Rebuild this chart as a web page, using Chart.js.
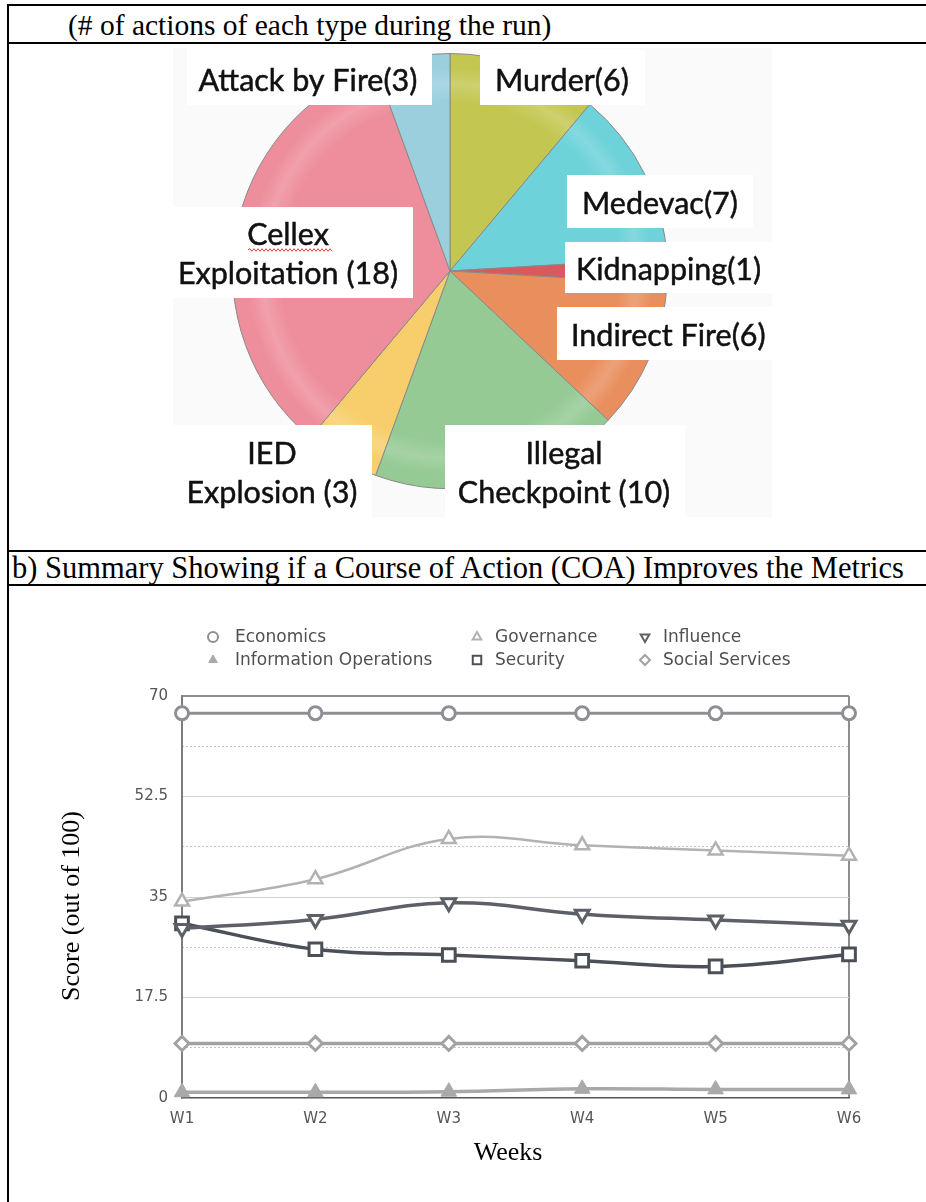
<!DOCTYPE html>
<html><head><meta charset="utf-8">
<script src="https://cdn.jsdelivr.net/npm/chart.js@4.4.1/dist/chart.umd.min.js"></script>
<style>
html,body{margin:0;padding:0;background:#fff;}
body{width:926px;height:1202px;position:relative;overflow:hidden;}
.hl{position:absolute;left:7px;right:0;height:2px;background:#000;}
.vl{position:absolute;left:7px;top:4px;bottom:0;width:2px;background:#000;}
.cap{position:absolute;font-family:"Liberation Serif","Times New Roman",serif;font-size:29.5px;color:#000;white-space:nowrap;line-height:1;}
.wrap{position:absolute;}
#pieWrap{left:9px;top:45px;width:917px;height:505px;}
#lineWrap{left:9px;top:587px;width:917px;height:615px;}
</style></head>
<body>
<div class="hl" style="top:4px"></div>
<div class="hl" style="top:42px"></div>
<div class="hl" style="top:550px"></div>
<div class="hl" style="top:584px"></div>
<div class="vl"></div>
<div class="cap" style="left:68px;top:11px">(# of actions of each type during the run)</div>
<div class="cap" style="left:12px;top:553px;font-size:30.5px">b) Summary Showing if a Course of Action (COA) Improves the Metrics</div>
<div class="wrap" id="pieWrap"><canvas id="pie"></canvas></div>
<div class="wrap" id="lineWrap"><canvas id="line"></canvas></div>
<script>
// ---------- DATA ----------
const actionTypes = ["Murder", "Medevac", "Kidnapping", "Indirect Fire", "Illegal Checkpoint", "IED Explosion", "Cellex Exploitation", "Attack by Fire"];
const actionCounts = [6, 7, 1, 6, 10, 3, 18, 3];

const weeks = ["W1", "W2", "W3", "W4", "W5", "W6"];
const economics = [67, 67, 67, 67, 67, 67];
const governance = [34.2, 38.1, 45.1, 44.0, 43.1, 42.2];
const influence = [29.5, 31.1, 34.0, 32.0, 31.0, 30.1];
const informationOperations = [1.0, 1.0, 1.1, 1.6, 1.5, 1.5];
const security = [30.4, 25.9, 24.9, 23.9, 22.9, 25.0];
const socialServices = [9.5, 9.5, 9.5, 9.5, 9.5, 9.5];
const seriesNames = ["Economics", "Governance", "Influence", "Information Operations", "Security", "Social Services"];
const yTickValues = [0, 17.5, 35, 52.5, 70];

// ---------- STYLES / LAYOUT ----------
const sliceColors = ["#c3c752", "#6dd2d9", "#d85a5d", "#e98f5e", "#95ca95", "#f7ce6b", "#ee8e9c", "#9bcfde"];
const PIE_OFF = {x: 9, y: 45};
const labelLayout = [
  {box: [480, 50, 645, 105], x: 495, align: "left", base: [91]},
  {box: [567, 175, 753, 228], x: 582, align: "left", base: [214]},
  {box: [565, 242, 772, 293], x: 576, align: "left", base: [280]},
  {box: [557, 307, 782, 360], x: 571, align: "left", base: [346]},
  {box: [445, 425, 685, 520], x: 564, align: "center", base: [464, 503]},
  {box: [173, 425, 372, 517], x: 272, align: "center", base: [464, 503]},
  {box: [173, 207, 413, 298], x: 288, align: "center", base: [245, 284]},
  {box: [187, 48, 432, 105], x: 308, align: "center", base: [91]}
];
function labelLines(i) {
  const name = actionTypes[i], v = actionCounts[i];
  if (labelLayout[i].base.length === 2) {
    const k = name.indexOf(" ");
    return [name.slice(0, k), name.slice(k + 1) + " (" + v + ")"];
  }
  return [name + "(" + v + ")"];
}
function lighten(hex, f) {
  const n = parseInt(hex.slice(1), 16);
  const r = (n >> 16) & 255, g = (n >> 8) & 255, b = n & 255;
  const m = (c) => Math.round(c + (255 - c) * f);
  return "rgb(" + m(r) + "," + m(g) + "," + m(b) + ")";
}
function sliceFill(c) {
  const col = sliceColors[c.dataIndex];
  const chart = c.chart, a = chart.chartArea;
  if (!a) return col;
  const cx = (a.left + a.right) / 2, cy = (a.top + a.bottom) / 2, r = Math.min(a.width, a.height) / 2;
  const g = chart.ctx.createRadialGradient(cx, cy, 0, cx, cy, r);
  g.addColorStop(0, col);
  g.addColorStop(0.78, col);
  g.addColorStop(0.86, lighten(col, 0.16));
  g.addColorStop(0.93, col);
  g.addColorStop(1, col);
  return g;
}

const pieLabelPlugin = {
  id: "pieLabels",
  beforeDraw(chart) {
    const ctx = chart.ctx;
    ctx.save();
    ctx.fillStyle = "#fafafa";
    ctx.fillRect(173 - PIE_OFF.x, 48 - PIE_OFF.y, 772 - 173, 517 - 48);
    ctx.restore();
  },
  afterDraw(chart) {
    const ctx = chart.ctx;
    ctx.save();
    ctx.font = '30.5px Lato, "Open Sans", sans-serif';
    ctx.textBaseline = "alphabetic";
    ctx.lineWidth = 0.5;
    ctx.strokeStyle = "#111111";
    labelLayout.forEach((L, i) => {
      const b = L.box;
      ctx.fillStyle = "#ffffff";
      ctx.fillRect(b[0] - PIE_OFF.x, b[1] - PIE_OFF.y, b[2] - b[0], b[3] - b[1]);
      ctx.fillStyle = "#111111";
      ctx.textAlign = L.align;
      labelLines(i).forEach((t, j) => {
        ctx.fillText(t, L.x - PIE_OFF.x, L.base[j] - PIE_OFF.y);
        ctx.strokeText(t, L.x - PIE_OFF.x, L.base[j] - PIE_OFF.y);
      });
    });
    ctx.strokeStyle = "#e23b3b";
    ctx.lineWidth = 1;
    ctx.beginPath();
    let x = 248 - PIE_OFF.x, y = 250 - PIE_OFF.y, up = true;
    ctx.moveTo(x, y);
    while (x < 332 - PIE_OFF.x) { x += 2; ctx.lineTo(x, y + (up ? -1.3 : 1.3)); up = !up; }
    ctx.stroke();
    ctx.restore();
  }
};

new Chart(document.getElementById("pie"), {
  type: "pie",
  data: {
    labels: actionTypes,
    datasets: [{
      data: actionCounts,
      backgroundColor: sliceFill,
      borderColor: "#8a8a8a",
      borderWidth: 1
    }]
  },
  options: {
    responsive: true,
    maintainAspectRatio: false,
    animation: false,
    layout: {padding: {left: 223, right: 258, top: 8, bottom: 61}},
    plugins: {legend: {display: false}, tooltip: {enabled: false}}
  },
  plugins: [pieLabelPlugin]
});

// ---------- LINE CHART ----------
Chart.defaults.font.family = '"DejaVu Sans", sans-serif';
const seriesStyles = [
  {color: "#8e8f94", width: 3, point: "circle", r: 6.5, fill: "#ffffff", bw: 3, rot: 0},
  {color: "#b2b2b2", width: 2.5, point: "triangle", r: 8, fill: "#ffffff", bw: 2.5, rot: 0},
  {color: "#5d6067", width: 3.5, point: "triangle", r: 8, fill: "#ffffff", bw: 3, rot: 180},
  {color: "#a9a9a9", width: 3.5, point: "triangle", r: 9, fill: "#a9a9a9", bw: 1, rot: 0},
  {color: "#4b5058", width: 3.5, point: "rect", r: 9, fill: "#ffffff", bw: 3, rot: 0},
  {color: "#a2a2a2", width: 3.5, point: "rectRot", r: 7, fill: "#ffffff", bw: 3, rot: 0}
];
const seriesData = [economics, governance, influence, informationOperations, security, socialServices];
const LINE_OFF = {x: 9, y: 587};

const datasets = seriesData.map((d, i) => {
  const s = seriesStyles[i];
  return {
    label: seriesNames[i],
    data: d,
    borderColor: s.color,
    borderWidth: s.width,
    tension: 0.4,
    pointStyle: s.point,
    pointRadius: s.r,
    pointRotation: s.rot,
    pointBackgroundColor: s.fill,
    pointBorderColor: s.color,
    pointBorderWidth: s.bw,
    clip: false,
    fill: false
  };
});

function drawMarker(ctx, s, x, y, r) {
  ctx.fillStyle = s.fill;
  ctx.strokeStyle = s.color;
  ctx.lineWidth = Math.min(s.bw, 2);
  if (Chart.helpers && Chart.helpers.drawPoint) {
    Chart.helpers.drawPoint(ctx, {pointStyle: s.point, radius: r, rotation: s.rot, borderWidth: ctx.lineWidth}, x, y);
  } else {
    ctx.beginPath(); ctx.arc(x, y, r, 0, Math.PI * 2); ctx.fill(); ctx.stroke();
  }
}

const lineDecor = {
  id: "lineDecor",
  afterDraw(chart) {
    const ctx = chart.ctx;
    ctx.save();
    const cols = [[213, 235], [477, 495], [645, 663]];
    const rows = [637, 660];
    ctx.font = '17px "DejaVu Sans", sans-serif';
    ctx.textBaseline = "middle";
    ctx.textAlign = "left";
    seriesNames.forEach((n, i) => {
      const c = cols[i % 3], ry = rows[Math.floor(i / 3)] - LINE_OFF.y;
      const s = seriesStyles[i];
      drawMarker(ctx, s, c[0] - LINE_OFF.x, ry, s.point === "rect" ? 6 : 5);
      ctx.fillStyle = "#505050";
      ctx.fillText(n, c[1] - LINE_OFF.x, ry + 1);
    });
    ctx.fillStyle = "#000";
    ctx.font = '26px "Liberation Serif", "Times New Roman", serif';
    ctx.textAlign = "center";
    ctx.textBaseline = "middle";
    ctx.fillText("Weeks", 508 - LINE_OFF.x, 1153 - LINE_OFF.y);
    ctx.translate(72 - LINE_OFF.x, 906 - LINE_OFF.y);
    ctx.rotate(-Math.PI / 2);
    ctx.fillText("Score (out of 100)", 0, 0);
    ctx.restore();
  }
};

new Chart(document.getElementById("line"), {
  type: "line",
  data: {labels: weeks, datasets: datasets},
  options: {
    responsive: true,
    maintainAspectRatio: false,
    animation: false,
    layout: {padding: {left: 0, right: 77, top: 109, bottom: 0}},
    plugins: {legend: {display: false}, tooltip: {enabled: false}},
    scales: {
      x: {
        offset: false,
        afterFit(s) { s.height = 104; },
        grid: {
          drawTicks: false,
          color: (c) => c.index === weeks.length - 1 ? "#8d8d8d" : "rgba(0,0,0,0)",
          lineWidth: 2
        },
        border: {color: "#555555", width: 1.5},
        ticks: {padding: 12, color: "#555555", font: {size: 15}}
      },
      y: {
        min: 0, max: 70,
        afterFit(s) { s.width = 173; },
        afterBuildTicks(s) { s.ticks = yTickValues.map(v => ({value: v})); },
        grid: {
          drawTicks: false,
          color: (c) => c.tick.value === 70 ? "#8d8d8d" : (c.tick.value === 0 ? "rgba(0,0,0,0)" : "#d2d2d2"),
          lineWidth: (c) => c.tick.value === 70 ? 2 : 1
        },
        border: {color: "#7d7d7d", width: 2},
        ticks: {padding: 14, color: "#555555", font: {size: 15}}
      },
      y2: {
        position: "left",
        min: 0, max: 70,
        afterFit(s) { s.width = 0; },
        ticks: {display: false, stepSize: 8.75},
        grid: {
          drawTicks: false,
          color: (c) => (Math.round(c.tick.value / 8.75) % 2 === 1) ? "#c4c4c4" : "rgba(0,0,0,0)",
          lineWidth: 1
        },
        border: {display: false, dash: [2, 2]}
      }
    }
  },
  plugins: [lineDecor]
});
</script>
</body></html>
